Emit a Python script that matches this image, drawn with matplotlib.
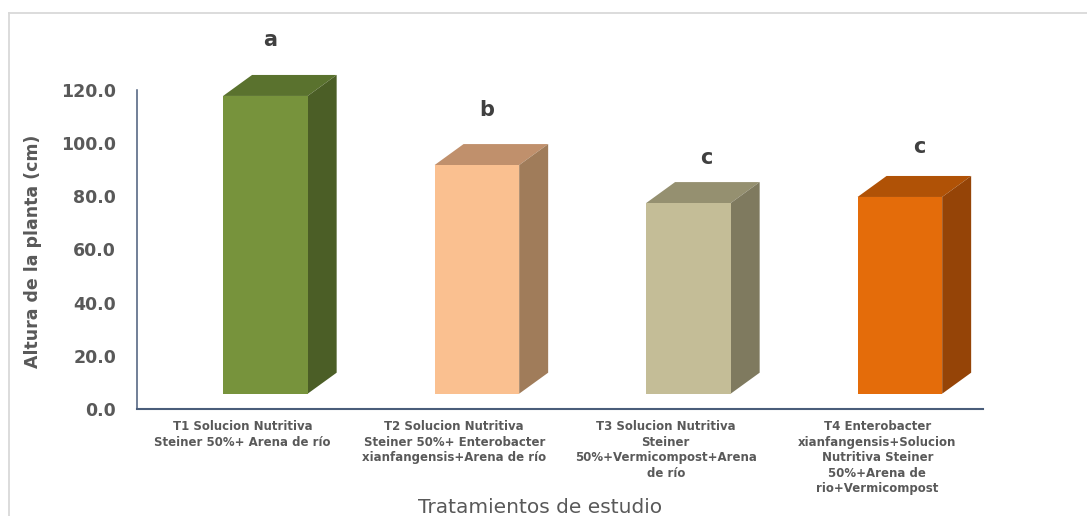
import matplotlib.pyplot as plt
from matplotlib.patches import Polygon, Rectangle
from matplotlib.lines import Line2D

plt.rcParams['font.family'] = ['DejaVu Sans']

# Treatments, mean plant height (cm) and significance letters
tratamientos = [
    'T1 Solucion Nutritiva\nSteiner 50%+ Arena de río',
    'T2 Solucion Nutritiva\nSteiner 50%+ Enterobacter\nxianfangensis+Arena de río',
    'T3 Solucion Nutritiva\nSteiner\n50%+Vermicompost+Arena\nde río',
    'T4 Enterobacter\nxianfangensis+Solucion\nNutritiva Steiner\n50%+Arena de\nrio+Vermicompost',
]
altura = [112.0, 86.0, 71.7, 74.0]
letras = ['a', 'b', 'c', 'c']

# face colours: front, top, side
frente = ['#77933C', '#FAC090', '#C4BD97', '#E46C0A']
techo = ['#5A722E', '#C0906C', '#959070', '#B05206']
lado = ['#4B5E26', '#A07C5A', '#7F7A5F', '#954407']

# pseudo-3D geometry (category units / value units)
ancho = 0.40
desp = -0.093     # front face offset from category centre
prof_x = 0.137
prof_y = 7.9
piso = 5.76
# letter placement above the front top edge (pixels)
letra_dx = [47, 52, 60, 62]
letra_dy = [56, 55, 45, 50]

fig = plt.figure(figsize=(10.87, 5.16), dpi=100)
ax = fig.add_axes([137 / 1087, 107 / 516, 846 / 1087, 319 / 516])

for i, (h, lab) in enumerate(zip(altura, letras)):
    x0 = i + 0.5 + desp
    x1 = x0 + ancho
    y0 = piso
    y1 = piso + h
    ax.add_patch(Polygon([(x0, y1), (x1, y1), (x1 + prof_x, y1 + prof_y),
                          (x0 + prof_x, y1 + prof_y)], closed=True,
                         facecolor=techo[i], edgecolor='none', clip_on=False))
    ax.add_patch(Polygon([(x1, y0), (x1 + prof_x, y0 + prof_y),
                          (x1 + prof_x, y1 + prof_y), (x1, y1)], closed=True,
                         facecolor=lado[i], edgecolor='none', clip_on=False))
    ax.add_patch(Rectangle((x0, y0), ancho, h, facecolor=frente[i],
                           edgecolor='none', clip_on=False))
    ax.annotate(lab, xy=(x0, y1), xytext=(letra_dx[i], letra_dy[i]),
                textcoords='offset pixels', ha='center', va='center',
                fontsize=15, fontweight='bold', color='#404040',
                annotation_clip=False)

ax.set_xlim(0, 4)
ax.set_ylim(0, 120)
ax.set_yticks(range(0, 121, 20))
ax.set_yticklabels([f'{v:.1f}' for v in range(0, 121, 20)])
ax.set_xticks([i + 0.5 for i in range(4)])
ax.set_xticklabels(tratamientos)

for s in ['top', 'right']:
    ax.spines[s].set_visible(False)
ax.spines['left'].set_color('#4A5D7A')
ax.spines['left'].set_linewidth(1.1)
ax.spines['bottom'].set_color('#4A5D7A')
ax.spines['bottom'].set_linewidth(1.5)

ax.tick_params(axis='y', length=0, pad=15, labelsize=12.5, labelcolor='#595959')
ax.tick_params(axis='x', length=0, pad=8, labelsize=8.5, labelcolor='#595959')
for t in ax.get_yticklabels():
    t.set_fontweight('bold')
for t in ax.get_xticklabels():
    t.set_fontweight('bold')
    t.set_linespacing(1.25)

ax.set_ylabel('Altura de la planta (cm)', fontsize=12.5, fontweight='bold',
              color='#595959')
ax.yaxis.set_label_coords(-0.112, 0.494)
ax.set_xlabel('Tratamientos de estudio', fontsize=14.5, color='#595959',
              va='baseline')
ax.xaxis.set_label_coords(0.476, -0.326)

# light chart-area frame
fig.add_artist(Line2D([8.5 / 1087, 8.5 / 1087], [0, 1 - 12.5 / 516],
                      transform=fig.transFigure, color='#D9D9D9', lw=1.3))
fig.add_artist(Line2D([8.5 / 1087, 1], [1 - 12.5 / 516, 1 - 12.5 / 516],
                      transform=fig.transFigure, color='#D9D9D9', lw=1.3))

fig.savefig('out.png', dpi=100)
